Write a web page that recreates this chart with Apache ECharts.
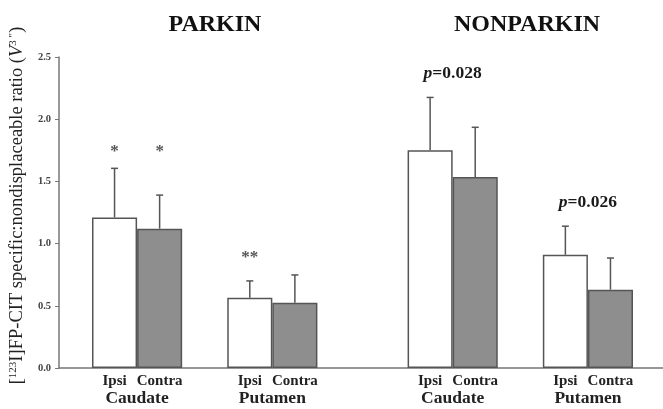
<!DOCTYPE html>
<html>
<head>
<meta charset="utf-8">
<script src="https://cdn.jsdelivr.net/npm/echarts@6/dist/echarts.min.js"></script>
<style>
  html, body { margin: 0; padding: 0; background: #fff; }
  #chart { width: 663px; height: 409px; }
</style>
</head>
<body>
<div id="chart"></div>
<script>
const groups = ['PARKIN', 'NONPARKIN'];
const regions = ['Caudate', 'Putamen'];
const sides = ['Ipsi', 'Contra'];
// order: PARKIN-Caudate, PARKIN-Putamen, NONPARKIN-Caudate, NONPARKIN-Putamen
const ipsiMean = [1.21, 0.565, 1.75, 0.91];
const ipsiSD = [0.395, 0.135, 0.425, 0.23];
const contraMean = [1.12, 0.525, 1.535, 0.63];
const contraSD = [0.27, 0.223, 0.40, 0.254];
const ipsiMark = ['*', '**', '', ''];
const contraMark = ['*', '', '', ''];
const pairMark = ['', '', '0.028', '0.026'];
const yTicks = [0, 0.5, 1.0, 1.5, 2.0, 2.5];

const serif = '"Liberation Serif", "Times New Roman", serif';
const grey = '#555';

// lay the bars out in slots: pair, gap, pair, two gaps, pair, gap, pair
const slotLabels = [];
const ipsiSlot = [];
const contraSlot = [];
groups.forEach((g, gi) => {
  regions.forEach((r, ri) => {
    const k = gi * regions.length + ri;
    ipsiSlot[k] = slotLabels.push(sides[0]) - 1;
    contraSlot[k] = slotLabels.push(sides[1]) - 1;
    if (ri < regions.length - 1) slotLabels.push('');
  });
  if (gi < groups.length - 1) { slotLabels.push(''); slotLabels.push(''); }
});

const ipsiData = slotLabels.map(() => '-');
const contraData = slotLabels.map(() => '-');
ipsiMean.forEach((v, k) => { ipsiData[ipsiSlot[k]] = v; });
contraMean.forEach((v, k) => { contraData[contraSlot[k]] = v; });

const errData = [];
ipsiMean.forEach((v, k) => errData.push([ipsiSlot[k], v, ipsiSD[k]]));
contraMean.forEach((v, k) => errData.push([contraSlot[k], v, contraSD[k]]));

// annotations: [fromSlot, toSlot, top of pair]
const marks = [];
const markText = [];
ipsiMean.forEach((v, k) => {
  const top = Math.max(v + ipsiSD[k], contraMean[k] + contraSD[k]);
  if (ipsiMark[k]) { marks.push([ipsiSlot[k], ipsiSlot[k], top]); markText.push(ipsiMark[k]); }
  if (contraMark[k]) { marks.push([contraSlot[k], contraSlot[k], top]); markText.push(contraMark[k]); }
  if (pairMark[k]) { marks.push([ipsiSlot[k], contraSlot[k], top]); markText.push('{i|p}{b|=' + pairMark[k] + '}'); }
});

const regionData = [];
const regionText = [];
ipsiMean.forEach((v, k) => {
  regionData.push([ipsiSlot[k], contraSlot[k], 0]);
  regionText.push(regions[k % regions.length]);
});

const chart = echarts.init(document.getElementById('chart'));

const option = {
  animation: false,
  backgroundColor: '#fff',
  title: [
    { text: groups[0], left: 210, top: 8, textAlign: 'center',
      textStyle: { fontFamily: serif, fontWeight: 'bold', fontSize: 24, color: '#111' } },
    { text: groups[1], left: 522, top: 8, textAlign: 'center',
      textStyle: { fontFamily: serif, fontWeight: 'bold', fontSize: 24, color: '#111' } }
  ],
  grid: [
    { left: 57, right: 0, top: 57, bottom: 41 },
    { left: 92, right: 30, top: 57, bottom: 41 }
  ],
  xAxis: [
    {
      gridIndex: 0, type: 'category', data: [''],
      axisLine: { lineStyle: { color: '#777', width: 1.5 } },
      axisTick: { show: false }, axisLabel: { show: false }
    },
    {
      gridIndex: 1, type: 'category', data: slotLabels,
      axisLine: { show: false }, axisTick: { show: false },
      axisLabel: { margin: 6, fontFamily: serif, fontWeight: 'bold', fontSize: 15, color: '#222', interval: 0 }
    }
  ],
  yAxis: [
    {
      gridIndex: 0, type: 'value', min: 0, max: 2.5, interval: 0.5,
      name: '{n|[}{s|123}{n|I]FP-CIT specific:nondisplaceable ratio (}{v|V}{s|3 \u2033}{n|)}',
      nameLocation: 'middle', nameGap: 25, nameRotate: 90,
      nameTextStyle: {
        padding: [0, 0, 0, 14],
        rich: {
          n: { fontFamily: serif, fontSize: 18.5, color: '#222' },
          v: { fontFamily: serif, fontSize: 18.5, fontStyle: 'italic', color: '#222' },
          s: { fontFamily: serif, fontSize: 11, color: '#222', verticalAlign: 'top', padding: [0, 0, 8, 0] }
        }
      },
      axisLine: { show: true, lineStyle: { color: '#777', width: 1.5 } },
      axisTick: { show: true, length: 4, lineStyle: { color: '#777' } },
      splitLine: { show: false },
      axisLabel: {
        margin: 8, fontFamily: serif, fontWeight: 'bold', fontSize: 10.5, color: '#444',
        formatter: v => yTicks.includes(v) ? v.toFixed(1) : ''
      }
    },
    {
      gridIndex: 1, type: 'value', min: 0, max: 2.5, interval: 0.5, show: false
    }
  ],
  series: [
    {
      name: sides[0], type: 'bar', xAxisIndex: 1, yAxisIndex: 1,
      data: ipsiData, barWidth: '100%', barGap: '-100%',
      itemStyle: { color: '#fff', borderColor: grey, borderWidth: 1.5 }
    },
    {
      name: sides[1], type: 'bar', xAxisIndex: 1, yAxisIndex: 1,
      data: contraData, barWidth: '100%', barGap: '-100%',
      itemStyle: { color: '#8e8e8e', borderColor: grey, borderWidth: 1.5 }
    },
    {
      type: 'custom', xAxisIndex: 1, yAxisIndex: 1, data: errData, z: 1,
      renderItem: (params, api) => {
        const x = api.value(0), m = api.value(1), sd = api.value(2);
        const p0 = api.coord([x, m]);
        const p1 = api.coord([x, m + sd]);
        const style = { stroke: grey, lineWidth: 1.5 };
        return {
          type: 'group',
          children: [
            { type: 'line', shape: { x1: p0[0], y1: p0[1], x2: p1[0], y2: p1[1] }, style },
            { type: 'line', shape: { x1: p1[0] - 3.5, y1: p1[1], x2: p1[0] + 3.5, y2: p1[1] }, style }
          ]
        };
      }
    },
    {
      type: 'custom', xAxisIndex: 1, yAxisIndex: 1, data: marks,
      renderItem: (params, api) => {
        const a = api.coord([api.value(0), api.value(2)]);
        const b = api.coord([api.value(1), api.value(2)]);
        const isP = a[0] !== b[0];
        return {
          type: 'text',
          x: (a[0] + b[0]) / 2, y: a[1] - (isP ? 24 : 17),
          style: {
            text: markText[params.dataIndex],
            align: 'center', verticalAlign: 'middle',
            fontFamily: serif, fontWeight: 'bold', fontSize: 17, fill: '#555',
            rich: {
              i: { fontFamily: serif, fontWeight: 'bold', fontStyle: 'italic', fontSize: 17.5, fill: '#1a1a1a' },
              b: { fontFamily: serif, fontWeight: 'bold', fontSize: 17.5, fill: '#1a1a1a' }
            }
          }
        };
      }
    },
    {
      type: 'custom', xAxisIndex: 1, yAxisIndex: 1, data: regionData,
      renderItem: (params, api) => {
        const a = api.coord([api.value(0), api.value(2)]);
        const b = api.coord([api.value(1), api.value(2)]);
        return {
          type: 'text',
          x: (a[0] + b[0]) / 2, y: a[1] + 30,
          style: {
            text: regionText[params.dataIndex],
            align: 'center', verticalAlign: 'middle',
            fontFamily: serif, fontWeight: 'bold', fontSize: 17.5, fill: '#222'
          }
        };
      }
    }
  ]
};

chart.setOption(option);
</script>
</body>
</html>
